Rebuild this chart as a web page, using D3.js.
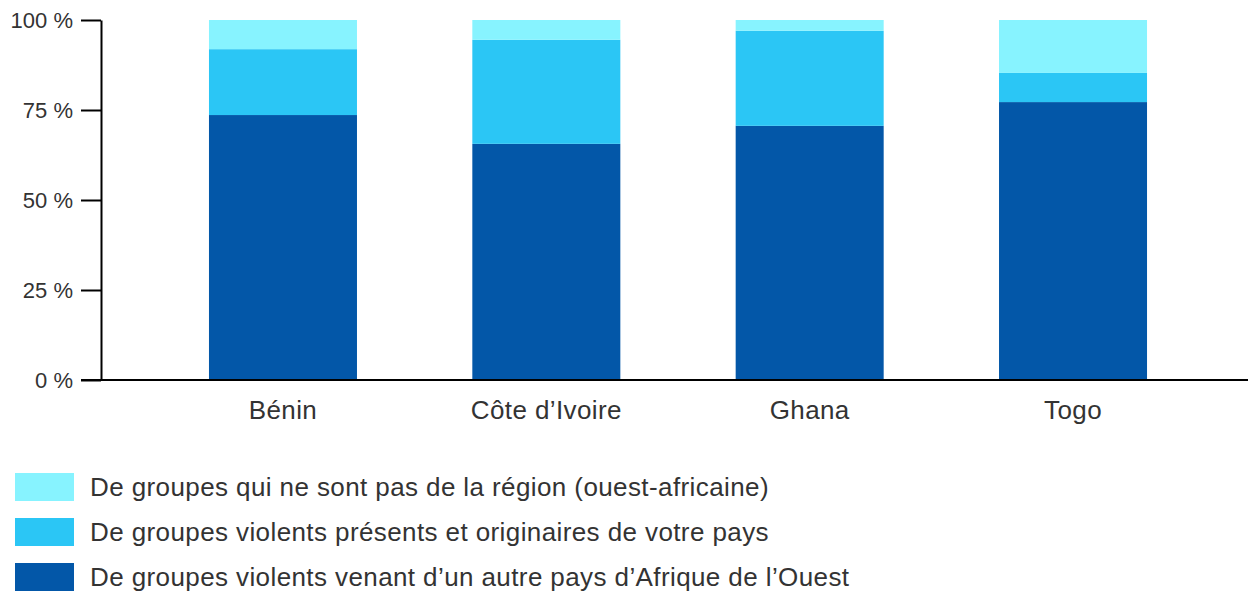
<!DOCTYPE html>
<html>
<head>
<meta charset="utf-8">
<script src="https://cdn.jsdelivr.net/npm/d3@7"></script>
<style>
html,body{margin:0;padding:0;background:#fff;}
svg{display:block;font-family:"Liberation Sans",Arial,Helvetica,sans-serif;}
</style>
</head>
<body>
<svg id="chart" width="1248" height="592"></svg>
<script>
const countries = ["Bénin", "Côte d’Ivoire", "Ghana", "Togo"];
const seriesNames = [
  "De groupes violents venant d’un autre pays d’Afrique de l’Ouest",
  "De groupes violents présents et originaires de votre pays",
  "De groupes qui ne sont pas de la région (ouest-africaine)"
];
const westAfrica = [73.6, 65.6, 70.6, 77.2];
const domestic = [18.3, 28.9, 26.4, 8.1];
const outsideRegion = [8.1, 5.5, 3.0, 14.7];
const colors = ["#0357A8", "#2BC6F5", "#87F3FF"];
const yTicks = [0, 25, 50, 75, 100];

const svg = d3.select("#chart");
const y = d3.scaleLinear().domain([0, 100]).range([380, 20]);
const x = d3.scaleBand().domain(countries).range([151.3, 1204.7])
  .paddingInner(0.438).paddingOuter(0.219);

const keys = ["westAfrica", "domestic", "outsideRegion"];
const table = countries.map((c, i) => ({
  country: c, westAfrica: westAfrica[i], domestic: domestic[i], outsideRegion: outsideRegion[i]
}));
const stacked = d3.stack().keys(keys)(table);

svg.append("g").selectAll("g").data(stacked).join("g")
  .attr("fill", (d, i) => colors[i])
  .selectAll("rect").data(d => d).join("rect")
  .attr("x", d => x(d.data.country))
  .attr("width", x.bandwidth())
  .attr("y", d => y(d[1]))
  .attr("height", d => y(d[0]) - y(d[1]));

// y axis
const yAxis = svg.append("g").attr("transform", "translate(101,0)")
  .call(d3.axisLeft(y).tickValues(yTicks).tickSize(20).tickSizeOuter(0).tickPadding(8)
    .tickFormat(d => d + " %"));
yAxis.selectAll("line").attr("stroke", "#000").attr("stroke-width", 2);
yAxis.select(".domain").attr("stroke", "#000").attr("stroke-width", 2);
yAxis.selectAll("text").attr("fill", "#333").style("font-size", "22px")
  .style("font-family", '"Liberation Sans", Arial, sans-serif');

// baseline
svg.append("line").attr("x1", 81).attr("x2", 1248).attr("y1", y(0)).attr("y2", y(0))
  .attr("stroke", "#000").attr("stroke-width", 2);

// x axis labels
const xAxis = svg.append("g").attr("transform", `translate(0,${y(0)})`)
  .call(d3.axisBottom(x).tickSize(0).tickPadding(21));
xAxis.select(".domain").remove();
xAxis.selectAll("text").attr("fill", "#333").style("font-size", "26px")
  .style("letter-spacing", "0.4px")
  .style("font-family", '"Liberation Sans", Arial, sans-serif');

// legend
const legendOrder = [2, 1, 0];
const leg = svg.append("g").selectAll("g").data(legendOrder).join("g")
  .attr("transform", (d, i) => `translate(15,${473 + i * 45})`);
leg.append("rect").attr("width", 59).attr("height", 28).attr("fill", d => colors[d]);
leg.append("text").attr("x", 75).attr("y", 14).attr("dy", "0.33em")
  .attr("fill", "#333").style("font-size", "26px").style("letter-spacing", "0.4px")
  .text(d => seriesNames[d]);
</script>
</body>
</html>
